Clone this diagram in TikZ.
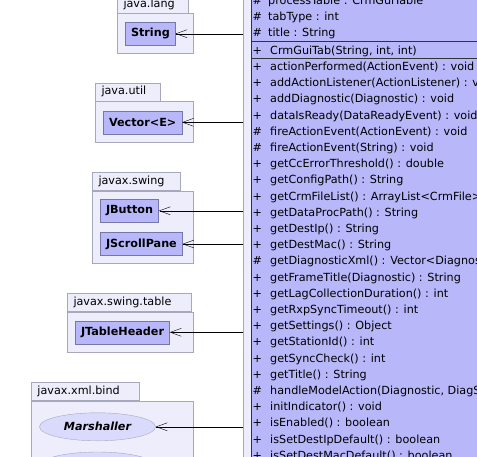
\documentclass[tikz,border=0pt]{standalone}
\usepackage{fontspec}
\setmainfont{DejaVu Sans}
\usetikzlibrary{arrows.meta,shapes.geometric}

\definecolor{pkgfill}{RGB}{237,237,252}
\definecolor{pkgline}{RGB}{168,168,188}
\definecolor{clsfill}{RGB}{183,183,250}
\definecolor{clsline}{RGB}{118,118,168}
\definecolor{ifcfill}{RGB}{218,218,252}

\newcommand{\umlfont}{\fontsize{11.2}{13}\selectfont}

\tikzstyle{pkg} = [draw=pkgline, fill=pkgfill, anchor=north west, inner sep=0pt]
\tikzstyle{pkgtab} = [draw=pkgline, fill=pkgfill, anchor=south west, inner xsep=6pt, minimum height=18pt, align=left]
\tikzstyle{cls} = [draw=clsline, fill=clsfill, anchor=west, inner xsep=5.5pt, minimum height=23pt, font=\umlfont\bfseries]
\tikzstyle{ifc} = [ellipse, draw=pkgline, fill=ifcfill, anchor=west, inner sep=0pt, minimum width=116pt, minimum height=28pt, font=\umlfont\bfseries\itshape]
\tikzstyle{member} = [anchor=base west, inner sep=0pt]

\begin{document}
\begin{tikzpicture}[x=1pt, y=-1pt, font=\umlfont, >={Straight Barb[length=11pt, width=8pt]}]
		\useasboundingbox (0,0) rectangle (477,456);
		\clip (0,0) rectangle (477,456);
		%\draw[help lines, step=10] (0,0) grid (477,456);
		
		% package and class on the right
		\node[pkg, minimum width=300, minimum height=520] (guipkg) at (243,-30) {};
		\node[draw=black!80, fill=clsfill, anchor=north west, minimum width=300, minimum height=520] (crmtab) at (251,-30) {};
		\draw[black!80] (crmtab.west |- 0,41.5) -- ++(240,0);
		\draw[black!80] (crmtab.west |- 0,58) -- ++(240,0);
		
		\foreach \s/\m [count=\i from 0] in {\#/processTable : CrmGuiTable, \#/tabType : int, \#/title : String}
		\node[member] (a\i) at (252.5, 4.4 + 16.25 * \i) {\makebox[15.5pt][l]{\s}\m};
		
		\node[member] (ctor) at (252.5, 54.3) {\makebox[17.5pt][l]{+}{CrmGuiTab(String, int, int)}};
		
		\foreach \s/\m [count=\i from 0] in {+/actionPerformed(ActionEvent) : void,
			+/addActionListener(ActionListener) : void,
			+/addDiagnostic(Diagnostic) : void,
			+/dataIsReady(DataReadyEvent) : void,
			\#/fireActionEvent(ActionEvent) : void,
			\#/fireActionEvent(String) : void,
			+/getCcErrorThreshold() : double,
			+/getConfigPath() : String,
			+/getCrmFileList() : ArrayList<CrmFile>,
			+/getDataProcPath() : String,
			+/getDestIp() : String,
			+/getDestMac() : String,
			\#/getDiagnosticXml() : Vector<Diagnostic>,
			+/getFrameTitle(Diagnostic) : String,
			+/getLagCollectionDuration() : int,
			+/getRxpSyncTimeout() : int,
			+/getSettings() : Object,
			+/getStationId() : int,
			+/getSyncCheck() : int,
			+/getTitle() : String,
			{\#/handleModelAction(Diagnostic, DiagStatus) : void},
			+/initIndicator() : void,
			+/isEnabled() : boolean,
			+/isSetDestIpDefault() : boolean,
			+/isSetDestMacDefault() : boolean}
		\node[member] (m\i) at (252.5, 70.5 + 16.2 * \i) {\makebox[17.5pt][l]{\s}\m};
		
		% packages on the left
		\foreach \p/\x/\y/\w/\h/\t/\n in {lang/117.3/13.3/76/40/59/java.lang,
			util/95.3/101/98/41.3/53/java.util,
			swing/92.3/190.7/101/72.6/76/javax.swing,
			table/67.3/311.7/125.4/40.6/111.4/javax.swing.table,
			bind/31.3/400.7/162/80/96/javax.xml.bind} {
			\node[pkg, minimum width=\w, minimum height=\h] (\p) at (\x,\y) {};
			\node[pkgtab, text width=\t] (\p t) at (\p.north west) {\n};
		}
		
		\node[cls] (string) at (125.3, 33.7) {String};
		\node[cls] (vector) at (103.3, 122.3) {Vector<E>};
		\node[cls] (jbutton) at (100.3, 210.8) {JButton};
		\node[cls] (jscroll) at (100.3, 244) {JScrollPane};
		\node[cls] (jheader) at (75.3, 332.3) {JTableHeader};
		\node[ifc] (marsh) at (39.3, 426.8) {Marshaller};
		\node[ifc] (unmarsh) at (39.3, 466) {};
		
		\foreach \c in {string, vector, jbutton, jscroll, jheader, marsh}
		\draw[->] (\c -| guipkg.west) -- (\c);
		
	\end{tikzpicture}
\end{document}
